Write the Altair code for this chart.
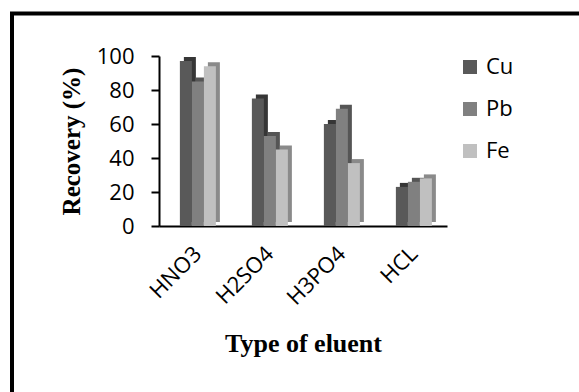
import altair as alt
import pandas as pd

# Recovery of metals for each eluent
eluents = ["HNO3", "H2SO4", "H3PO4", "HCL"]
metals = ["Cu", "Pb", "Fe"]
cu = [97, 75, 60, 23]
pb = [85, 53, 69, 26]
fe = [94, 45, 37, 28]
colors = ["#595959", "#808080", "#c0c0c0"]
side_colors = ["#363636", "#555555", "#8a8a8a"]

rows = []
for metal, vals in zip(metals, [cu, pb, fe]):
    for e, v in zip(eluents, vals):
        rows.append({"eluent": e, "metal": metal, "recovery": v})
df = pd.DataFrame(rows)

W, H = 288, 170
LEFT, TOP = 159, 56
RIGHT, BOTTOM = 579 - LEFT - W, 392 - TOP - H
DEPTH = 4

x_enc = alt.X(
    "eluent:N",
    sort=eluents,
    scale=alt.Scale(paddingInner=0.5, paddingOuter=0.25, align=0.58),
    axis=alt.Axis(
        title="Type of eluent",
        labelAngle=-45,
        labelAlign="right",
        labelBaseline="middle",
        labelFont="Open Sans",
        labelFontSize=22,
        labelColor="black",
        labelPadding=24,
        ticks=False,
        domainColor="black",
        domainWidth=2,
        titleFont="Liberation Serif",
        titleFontWeight="bold",
        titleFontSize=26,
        titleColor="black",
        titlePadding=22,
    ),
)
y_enc = alt.Y(
    "recovery:Q",
    scale=alt.Scale(domain=[0, 100], nice=False),
    axis=alt.Axis(
        title="Recovery (%)",
        values=[0, 20, 40, 60, 80, 100],
        grid=False,
        labelFont="Open Sans",
        labelFontSize=22,
        labelColor="black",
        labelPadding=17,
        tickColor="black",
        tickSize=8,
        tickWidth=2,
        domainColor="black",
        domainWidth=2,
        titleFont="Liberation Serif",
        titleFontWeight="bold",
        titleFontSize=25,
        titleColor="black",
        titlePadding=12,
    ),
)

# darker block behind each bar, shifted up and right to give depth
side = alt.Chart(df).mark_bar(yOffset=-DEPTH).encode(
    x=x_enc,
    xOffset=alt.XOffset(
        "metal:N", sort=metals, scale=alt.Scale(range=[DEPTH, 36 + DEPTH])
    ),
    y=y_enc,
    color=alt.Color(
        "metal:N", sort=metals,
        scale=alt.Scale(domain=metals, range=side_colors),
        legend=None,
    ),
)

front = alt.Chart(df).mark_bar().encode(
    x=x_enc,
    xOffset=alt.XOffset("metal:N", sort=metals, scale=alt.Scale(range=[0, 36])),
    y=y_enc,
    color=alt.Color(
        "metal:N",
        sort=metals,
        scale=alt.Scale(domain=metals, range=colors),
        legend=alt.Legend(
            title=None,
            orient="none",
            legendX=300,
            legendY=0,
            symbolType="square",
            symbolSize=196,
            symbolStrokeWidth=0,
            labelFont="Open Sans",
            labelFontSize=22,
            labelColor="black",
            rowPadding=20,
            labelOffset=5,
        ),
    ),
)

frame_df = pd.DataFrame({"k": [0]})
frame = alt.Chart(frame_df).mark_rect(
    fill=None, stroke="black", strokeWidth=4
).encode(
    x=alt.value(-147),
    x2=alt.value(440),
    y=alt.value(-42.5),
    y2=alt.value(360),
)

chart = alt.layer(frame, side, front).resolve_scale(
    xOffset="independent", color="independent"
).properties(
    width=W,
    height=H,
    padding={"left": LEFT, "top": TOP, "right": RIGHT, "bottom": BOTTOM},
    autosize=alt.AutoSizeParams(type="none"),
    background="white",
).configure_view(stroke=None)

chart.save("out.html", embed_options={"renderer": "svg", "actions": False})
